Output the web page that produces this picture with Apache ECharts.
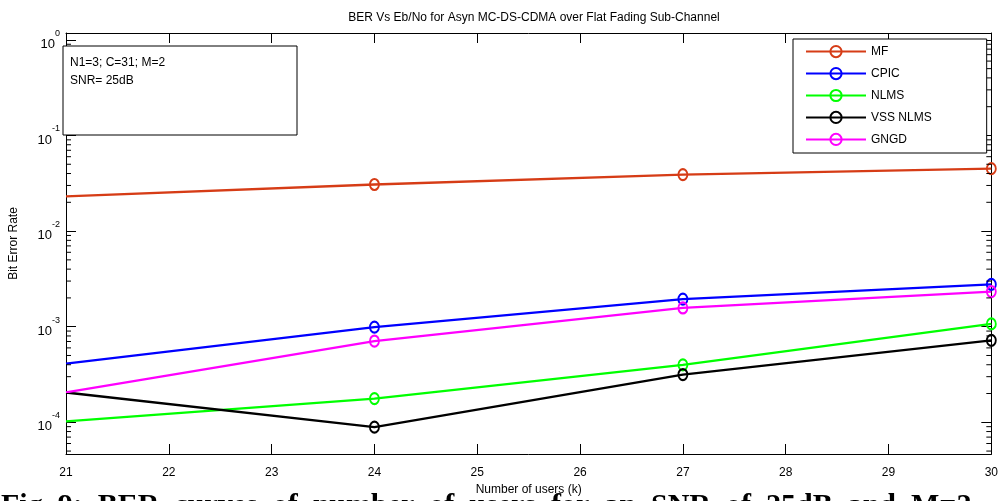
<!DOCTYPE html>
<html>
<head>
<meta charset="utf-8">
<script src="https://cdn.jsdelivr.net/npm/echarts@6/dist/echarts.min.js"></script>
<style>
  html, body { margin: 0; padding: 0; background: #fff; }
  #main { width: 1001px; height: 501px; }
</style>
</head>
<body>
<div id="main"></div>
<script>
// users (k)
var users = [21, 24, 27, 30];

// BER values
var mfData   = [0.0231, 0.0307, 0.039, 0.045];
var cpicData = [0.00041, 0.00099, 0.00194, 0.00277];
var nlmsData = [0.000102, 0.000177, 0.000399, 0.00107];
var vssData  = [0.000205, 0.000089, 0.000316, 0.00072];
var gngdData = [0.000205, 0.000708, 0.00157, 0.00233];

var seriesNames = ['MF', 'CPIC', 'NLMS', 'VSS NLMS', 'GNGD'];
var seriesColors = ['#d63c16', '#0000ff', '#00ff00', '#000000', '#ff00ff'];

// axis limits
var xMin = 21, xMax = 30;
var yMin = 4.66e-5, yMax = 1.18;

// minor log ticks (2..9 per decade)
var minorMantissa = [2, 3, 4, 5, 6, 7, 8, 9];
var decades = [1e-5, 1e-4, 1e-3, 1e-2, 1e-1];

var narrow = "'Liberation Sans Narrow', 'Liberation Sans', Arial, sans-serif";
var sans = "'Liberation Sans', Arial, sans-serif";

var myChart = echarts.init(document.getElementById('main'));

function toPairs(vals) {
    var res = [];
    for (var i = 0; i < users.length; i++) {
        var item = { value: [users[i], vals[i]] };
        if (i === 0) {
            item.symbol = 'none';
        }
        res.push(item);
    }
    return res;
}

var minorTicks = [];
for (var d = 0; d < decades.length; d++) {
    for (var m = 0; m < minorMantissa.length; m++) {
        var v = minorMantissa[m] * decades[d];
        if (v > yMin && v < yMax) {
            minorTicks.push([xMin, v]);
        }
    }
}

var allData = [mfData, cpicData, nlmsData, vssData, gngdData];
var series = [];
for (var s = 0; s < seriesNames.length; s++) {
    series.push({
        name: seriesNames[s],
        type: 'line',
        data: toPairs(allData[s]),
        symbol: 'circle',
        symbolSize: [9, 11],
        lineStyle: { color: seriesColors[s], width: 2.3 },
        itemStyle: { color: 'rgba(255,255,255,0)', borderColor: seriesColors[s], borderWidth: 2 },
        emphasis: { disabled: true },
        animation: false,
        z: 3
    });
}

// minor ticks on left and right y axes
series.push({
    type: 'custom',
    silent: true,
    animation: false,
    data: minorTicks,
    renderItem: function(params, api) {
        var val = api.value(1);
        var pl = api.coord([xMin, val]);
        var pr = api.coord([xMax, val]);
        return {
            type: 'group',
            children: [{
                type: 'line',
                shape: { x1: pl[0], y1: pl[1], x2: pl[0] + 5, y2: pl[1] },
                style: { stroke: '#000', lineWidth: 1 }
            }, {
                type: 'line',
                shape: { x1: pr[0], y1: pr[1], x2: pr[0] - 5, y2: pr[1] },
                style: { stroke: '#000', lineWidth: 1 }
            }]
        };
    },
    z: 4
});

var yLabelFmt = function(value) {
    var e = Math.log10(value);
    if (Math.abs(e - Math.round(e)) > 1e-6) {
        return '';
    }
    return '{b|10}{s|' + Math.round(e) + '}';
};

var option = {
    backgroundColor: '#fff',
    animation: false,
    title: {
        text: 'BER Vs Eb/No for Asyn MC-DS-CDMA over Flat Fading Sub-Channel',
        left: 529,
        textAlign: 'center',
        top: 7,
        textStyle: { fontFamily: sans, fontSize: 12, fontWeight: 'normal', color: '#000' }
    },
    legend: {
        data: seriesNames,
        orient: 'vertical',
        left: 793,
        top: 39,
        padding: [6, 55, 7, 12],
        itemWidth: 60,
        itemHeight: 14,
        itemGap: 8.75,
        backgroundColor: '#fff',
        borderColor: '#000',
        borderWidth: 1,
        borderRadius: 0,
        selectedMode: false,
        textStyle: { fontFamily: narrow, fontSize: 12, color: '#000' },
        z: 10
    },
    grid: {
        left: 61,
        right: 4,
        top: 33,
        bottom: 43
    },
    xAxis: [{
        type: 'value',
        min: xMin,
        max: xMax,
        interval: 1,
        position: 'bottom',
        name: 'Number of users (k)',
        nameLocation: 'middle',
        nameGap: 30,
        nameTextStyle: { fontFamily: narrow, fontSize: 12, color: '#000' },
        axisLine: { show: true, onZero: false, lineStyle: { color: '#000', width: 1 } },
        axisTick: { show: true, inside: true, length: 10, lineStyle: { color: '#000' } },
        axisLabel: { fontFamily: narrow, fontSize: 12, color: '#000', margin: 13 },
        splitLine: { show: false }
    }, {
        type: 'value',
        min: xMin,
        max: xMax,
        interval: 1,
        position: 'top',
        axisLine: { show: true, onZero: false, lineStyle: { color: '#000', width: 1 } },
        axisTick: { show: true, inside: true, length: 10, lineStyle: { color: '#000' } },
        axisLabel: { show: false },
        splitLine: { show: false }
    }],
    yAxis: [{
        type: 'log',
        logBase: 10,
        min: yMin,
        max: yMax,
        position: 'left',
        name: 'Bit Error Rate',
        nameLocation: 'middle',
        nameGap: 46,
        nameRotate: 90,
        nameTextStyle: { fontFamily: sans, fontSize: 12, color: '#000' },
        axisLine: { show: true, onZero: false, lineStyle: { color: '#000', width: 1 } },
        axisTick: { show: true, inside: true, length: 10, lineStyle: { color: '#000' } },
        axisLabel: {
            formatter: yLabelFmt,
            margin: 6,
            showMinLabel: false,
            showMaxLabel: false,
            rich: {
                b: { fontFamily: narrow, fontSize: 13, color: '#000', lineHeight: 22, verticalAlign: 'bottom' },
                s: { fontFamily: narrow, fontSize: 9, color: '#000', verticalAlign: 'top' }
            }
        },
        splitLine: { show: false }
    }, {
        type: 'log',
        logBase: 10,
        min: yMin,
        max: yMax,
        position: 'right',
        axisLine: { show: true, onZero: false, lineStyle: { color: '#000', width: 1 } },
        axisTick: { show: true, inside: true, length: 10, lineStyle: { color: '#000' } },
        axisLabel: { show: false },
        splitLine: { show: false }
    }],
    graphic: [{
        type: 'rect',
        shape: { x: 63, y: 46, width: 234, height: 89 },
        style: { fill: '#fff', stroke: '#000', lineWidth: 1 },
        z: 8
    }, {
        type: 'text',
        left: 70,
        top: 57,
        style: { text: 'N1=3; C=31; M=2', font: '12px ' + narrow, fill: '#000' },
        z: 9
    }, {
        type: 'text',
        left: 70,
        top: 75,
        style: { text: 'SNR= 25dB', font: '12px ' + narrow, fill: '#000' },
        z: 9
    }, {
        type: 'text',
        x: 1,
        y: 506,
        style: {
            text: 'Fig. 9:  BER  curves  of  number  of  users  for  an  SNR  of  25dB  and  M=2',
            font: 'bold 30px "Liberation Serif", "Times New Roman", serif',
            fill: '#000',
            textVerticalAlign: 'middle'
        },
        z: -1
    }],
    series: series
};

myChart.setOption(option);
</script>
</body>
</html>
